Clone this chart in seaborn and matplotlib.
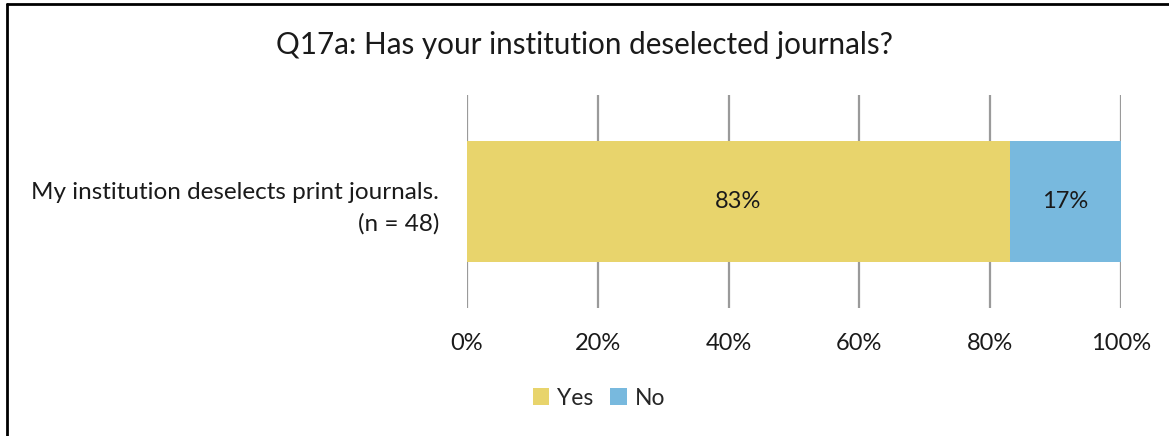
import matplotlib
matplotlib.use("Agg")
import matplotlib.pyplot as plt
import seaborn as sns
import pandas as pd
from matplotlib.lines import Line2D
from matplotlib.patches import Patch

# Survey responses (percent of respondents)
categories = ["My institution deselects print journals.\n(n = 48)"]
yes_pct = [83]
no_pct = [17]
series_names = ["Yes", "No"]
tick_values = [0, 20, 40, 60, 80, 100]
tick_labels = ["0%", "20%", "40%", "60%", "80%", "100%"]

YES_COLOR = "#E8D46C"
NO_COLOR = "#78B9DE"
TEXT = "#1a1a1a"

sns.set_theme(style="white")
plt.rcParams["font.family"] = ["Lato", "DejaVu Sans"]

df = pd.DataFrame({
    "question": categories,
    "Yes": yes_pct,
    "No": no_pct,
})
df["total"] = df["Yes"] + df["No"]

fig = plt.figure(figsize=(11.69, 4.36), dpi=100)
ax = fig.add_axes([467 / 1169, 1 - 308 / 436, (1121 - 467) / 1169, (308 - 95) / 436])

# Stacked bar: full length in "No" colour, "Yes" portion drawn over it
sns.barplot(data=df, x="total", y="question", color=NO_COLOR, width=0.568,
            saturation=1, linewidth=0, ax=ax, zorder=2)
sns.barplot(data=df, x="Yes", y="question", color=YES_COLOR, width=0.568,
            saturation=1, linewidth=0, ax=ax, zorder=3)

# Segment labels
for i, row in df.iterrows():
    ax.text(row["Yes"] / 2, i, f"{row['Yes']}%", ha="center", va="center",
            fontsize=17, color=TEXT, zorder=4)
    ax.text(row["Yes"] + row["No"] / 2, i, f"{row['No']}%", ha="center",
            va="center", fontsize=17, color=TEXT, zorder=4)

ax.set_xlim(0, 100)
ax.set_ylim(0.5, -0.5)
ax.set_xticks(tick_values)
ax.set_xticklabels(tick_labels, fontsize=17, color=TEXT)
ax.tick_params(axis="x", length=0, pad=18)
ax.tick_params(axis="y", length=0, pad=20)
for lbl in ax.get_yticklabels():
    lbl.set_fontsize(17.5)
    lbl.set_color(TEXT)
    lbl.set_ha("right")
    lbl.set_multialignment("right")
    lbl.set_linespacing(1.55)
ax.set_xlabel("")
ax.set_ylabel("")

for x in tick_values:
    ax.axvline(x, color="#9a9a9a", linewidth=1.6, zorder=1)
for s in ax.spines.values():
    s.set_visible(False)

fig.text(0.5, 1 - 45 / 436, "Q17a: Has your institution deselected journals?",
         ha="center", va="center", fontsize=21.3, color=TEXT)

handles = [Patch(facecolor=YES_COLOR, edgecolor="none"),
           Patch(facecolor=NO_COLOR, edgecolor="none")]
fig.legend(handles, series_names, loc="center", ncol=2,
           bbox_to_anchor=(599 / 1169, 1 - 398 / 436), frameon=False,
           fontsize=16.5, handlelength=0.7, handleheight=0.7,
           handletextpad=0.35, columnspacing=0.75)

# Outer frame (left and top edges)
fig.add_artist(Line2D([7 / 1169, 7 / 1169], [0, 1 - 4 / 436],
                      transform=fig.transFigure, color="black", linewidth=2))
fig.add_artist(Line2D([7 / 1169, 1], [1 - 4 / 436, 1 - 4 / 436],
                      transform=fig.transFigure, color="black", linewidth=2))

fig.savefig("out.png", dpi=100, facecolor="white")
